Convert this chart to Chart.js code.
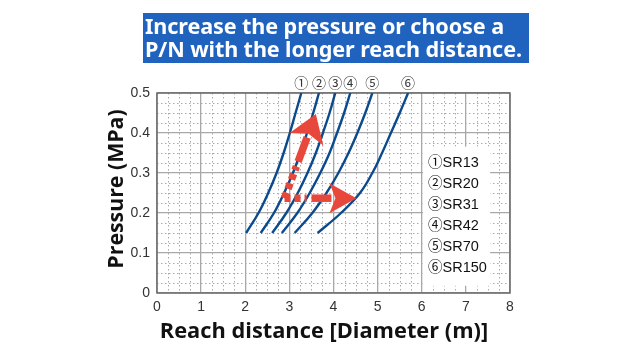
<!DOCTYPE html>
<html>
<head>
<meta charset="utf-8">
<script src="https://cdn.jsdelivr.net/npm/chart.js@4/dist/chart.umd.min.js"></script>
<style>
  html, body { margin: 0; padding: 0; background: #fff; }
  #wrap { position: relative; width: 640px; height: 360px; overflow: hidden; }
  #banner {
    position: absolute; left: 143px; top: 13px; width: 386px; height: 50px;
    background: #1f63bf; color: #fff;
    font-family: "Noto Sans", sans-serif; font-weight: bold; font-size: 21.6px;
    line-height: 23px; padding: 1px 0 0 2px; box-sizing: border-box; white-space: nowrap;
    letter-spacing: -0.1px;
  }
  canvas { position: absolute; left: 0; top: 0; }
</style>
</head>
<body>
<div id="wrap">
  <canvas id="reachChart" width="640" height="360"></canvas>
  <div id="banner">Increase the pressure or choose a<br>P/N with the longer reach distance.</div>
</div>
<script>
// Nilai (tekanan MPa -> jarak jangkau m)
const pressures = [0.15, 0.2, 0.25, 0.3, 0.35, 0.4, 0.45, 0.5];
const sr13  = [2.02, 2.30, 2.52, 2.71, 2.87, 3.01, 3.14, 3.27];
const sr20  = [2.35, 2.65, 2.88, 3.08, 3.25, 3.40, 3.54, 3.67];
const sr31  = [2.61, 2.93, 3.19, 3.41, 3.60, 3.76, 3.91, 4.04];
const sr42  = [2.83, 3.18, 3.46, 3.70, 3.91, 4.08, 4.24, 4.38];
const sr70  = [3.12, 3.52, 3.84, 4.11, 4.34, 4.54, 4.72, 4.88];
const sr150 = [3.64, 4.17, 4.60, 4.88, 5.10, 5.30, 5.50, 5.69];

const models = ['SR13', 'SR20', 'SR31', 'SR42', 'SR70', 'SR150'];
const marks = ['①', '②', '③', '④', '⑤', '⑥'];
const xTicks = [0, 1, 2, 3, 4, 5, 6, 7, 8];
const yTicks = [0, 0.1, 0.2, 0.3, 0.4, 0.5];

// Panah anotasi (satuan data)
const arrowStart = { x: 2.89, y: 0.237 };
const arrowUpTip = { x: 3.60, y: 0.4475 };
const arrowRightTip = { x: 4.52, y: 0.237 };

// Kotak keterangan (satuan data)
const legendBox = { x0: 6.03, x1: 7.55, y0: 0.366, y1: 0.018 };

const LINE_BLUE = '#0b4a8c';
const ARROW_RED = '#e8483b';
const TICK_FONT = '"Liberation Sans", Arial, sans-serif';

const seriesList = [sr13, sr20, sr31, sr42, sr70, sr150];

const datasets = seriesList.map((vals, i) => ({
    label: models[i],
    data: vals.map((x, j) => ({ x: x, y: pressures[j] })),
    showLine: true,
    borderColor: LINE_BLUE,
    borderWidth: 2.4,
    pointRadius: 0,
    tension: 0.4,
    fill: false
}));

/**
 * Grid minor bertitik, bingkai, kotak keterangan, label nomor dan judul sumbu.
 */
const decorPlugin = {
    id: 'decor',
    beforeDatasetsDraw(chart) {
        const { ctx, chartArea: a, scales: { x, y } } = chart;
        ctx.save();
        ctx.strokeStyle = '#aaaaaa';
        ctx.lineWidth = 1;
        ctx.setLineDash([1.5, 2.5]);
        for (let v = 0.25; v < 8; v += 0.25) {
            if (Math.abs(v - Math.round(v)) < 1e-6) continue;
            const px = Math.round(x.getPixelForValue(v)) + 0.5;
            ctx.beginPath(); ctx.moveTo(px, a.top); ctx.lineTo(px, a.bottom); ctx.stroke();
        }
        for (let k = 1; k < 20; k++) {
            if (k % 4 === 0) continue;
            const py = Math.round(y.getPixelForValue(k * 0.025)) + 0.5;
            ctx.beginPath(); ctx.moveTo(a.left, py); ctx.lineTo(a.right, py); ctx.stroke();
        }
        ctx.setLineDash([]);

        // bingkai
        ctx.strokeStyle = '#6a6a6a';
        ctx.lineWidth = 1.5;
        ctx.strokeRect(a.left, a.top, a.right - a.left, a.bottom - a.top);

        // kotak keterangan
        const bx0 = x.getPixelForValue(legendBox.x0), bx1 = x.getPixelForValue(legendBox.x1);
        const by0 = y.getPixelForValue(legendBox.y0), by1 = y.getPixelForValue(legendBox.y1);
        ctx.fillStyle = '#fff';
        ctx.fillRect(bx0, by0, bx1 - bx0, by1 - by0);
        ctx.fillStyle = '#111';
        ctx.font = '14.5px "Liberation Sans", "Noto Sans CJK JP", sans-serif';
        ctx.textAlign = 'left';
        ctx.textBaseline = 'middle';
        models.forEach((m, i) => {
            ctx.fillText(marks[i] + m, bx0 + 5, by0 + 16 + i * 21);
        });

        // nomor di atas kurva
        ctx.font = '14px "Noto Sans CJK JP", sans-serif';
        ctx.textAlign = 'center';
        ctx.fillStyle = '#333';
        seriesList.forEach((vals, i) => {
            const px = x.getPixelForValue(vals[vals.length - 1]);
            ctx.fillText(marks[i], px, a.top - 10);
        });
        ctx.restore();
    },
    afterDatasetsDraw(chart) {
        const { ctx, scales: { x, y } } = chart;
        const sx = x.getPixelForValue(arrowStart.x), sy = y.getPixelForValue(arrowStart.y);
        drawArrow(ctx, sx, sy, x.getPixelForValue(arrowUpTip.x), y.getPixelForValue(arrowUpTip.y), 34, 18);
        drawArrow(ctx, sx, sy, x.getPixelForValue(arrowRightTip.x), y.getPixelForValue(arrowRightTip.y), 22, 15);
    },
    afterDraw(chart) {
        const { ctx } = chart;
        ctx.save();
        ctx.fillStyle = '#111';
        ctx.font = 'bold 21.8px "Open Sans", "Noto Sans", sans-serif';
        ctx.textAlign = 'center';
        ctx.textBaseline = 'middle';
        ctx.fillText('Reach distance [Diameter (m)]', 324, 332);
        ctx.font = 'bold 21.3px "Open Sans", "Noto Sans", sans-serif';
        ctx.translate(117, 189);
        ctx.rotate(-Math.PI / 2);
        ctx.fillText('Pressure (MPa)', 0, 0);
        ctx.restore();
    }
};

function drawArrow(ctx, x0, y0, x1, y1, dashedLen, headHalf) {
    const len = Math.hypot(x1 - x0, y1 - y0);
    const ux = (x1 - x0) / len, uy = (y1 - y0) / len;
    const headLen = 27;
    const bx = x1 - ux * headLen, by = y1 - uy * headLen;
    ctx.save();
    ctx.strokeStyle = ARROW_RED;
    ctx.fillStyle = ARROW_RED;
    ctx.lineWidth = 7.5;
    ctx.lineCap = 'butt';
    // bagian putus-putus
    ctx.setLineDash([6, 4]);
    ctx.beginPath();
    ctx.moveTo(x0, y0);
    ctx.lineTo(x0 + ux * dashedLen, y0 + uy * dashedLen);
    ctx.stroke();
    // bagian padat
    ctx.setLineDash([]);
    ctx.beginPath();
    ctx.moveTo(x0 + ux * (dashedLen + 5), y0 + uy * (dashedLen + 5));
    ctx.lineTo(bx + ux * 2, by + uy * 2);
    ctx.stroke();
    // kepala panah
    ctx.beginPath();
    ctx.moveTo(x1, y1);
    ctx.lineTo(bx - uy * headHalf, by + ux * headHalf);
    ctx.lineTo(bx + ux * 6, by + uy * 6);
    ctx.lineTo(bx + uy * headHalf, by - ux * headHalf);
    ctx.closePath();
    ctx.fill();
    ctx.restore();
}

new Chart(document.getElementById('reachChart'), {
    type: 'scatter',
    data: { datasets: datasets },
    options: {
        responsive: false,
        animation: false,
        layout: { padding: { top: 93, right: 130, left: 0, bottom: 0 } },
        plugins: { legend: { display: false }, tooltip: { enabled: false } },
        scales: {
            x: {
                type: 'linear',
                min: 0, max: 8,
                afterFit: (s) => { s.height = 67; },
                afterBuildTicks: (s) => { s.ticks = xTicks.map(v => ({ value: v })); },
                grid: { color: '#a8a8a8', lineWidth: 1.3, drawTicks: false },
                border: { display: false },
                ticks: {
                    padding: 6,
                    color: '#333',
                    font: { family: TICK_FONT, size: 14 },
                    callback: (v) => String(v)
                }
            },
            y: {
                type: 'linear',
                min: 0, max: 0.5,
                afterFit: (s) => { s.width = 157; },
                afterBuildTicks: (s) => { s.ticks = yTicks.map(v => ({ value: v })); },
                grid: { color: '#a8a8a8', lineWidth: 1.3, drawTicks: false },
                border: { display: false },
                ticks: {
                    padding: 7,
                    color: '#333',
                    font: { family: TICK_FONT, size: 14 },
                    callback: (v) => (v === 0 ? '0' : v.toFixed(1))
                }
            }
        }
    },
    plugins: [decorPlugin]
});
</script>
</body>
</html>
